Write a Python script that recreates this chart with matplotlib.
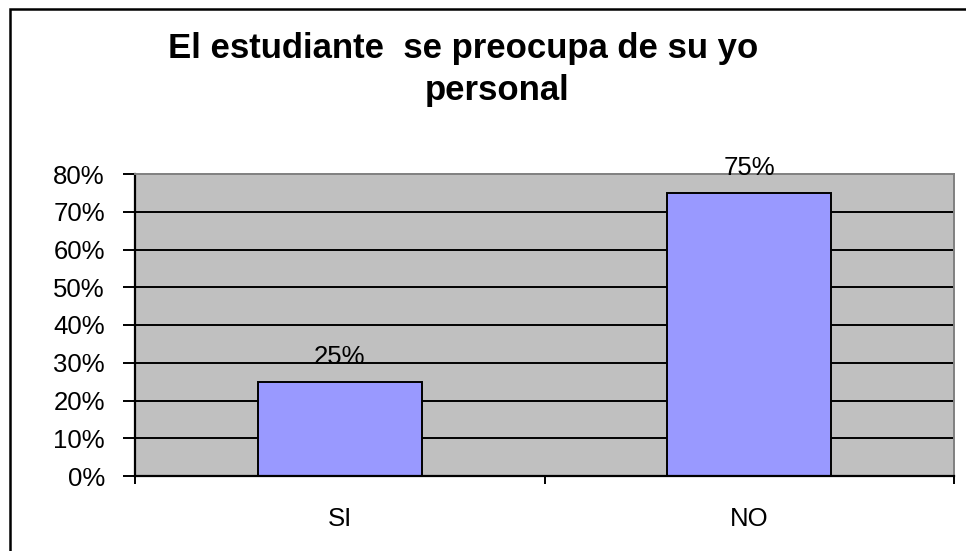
import matplotlib
matplotlib.use("Agg")
import matplotlib.pyplot as plt
from matplotlib.patches import Rectangle
from matplotlib.ticker import FuncFormatter

categories = ["SI", "NO"]
values = [0.25, 0.75]
labels = ["25%", "75%"]
yticks = [0, 0.1, 0.2, 0.3, 0.4, 0.5, 0.6, 0.7, 0.8]

plt.rcParams['font.family'] = ['Liberation Sans', 'DejaVu Sans']

W, H = 966, 551
fig = plt.figure(figsize=(W/100, H/100), dpi=100)

# outer frame (cut off at right/bottom)
fig.patches.append(Rectangle((10/W, -0.1), 1.2, (H-9)/H + 0.1, transform=fig.transFigure,
                             fill=False, edgecolor='black', linewidth=1.8))

ax = fig.add_axes([135/W, 1-476/H, (954-135)/W, (476-174)/H])
ax.set_facecolor('#C0C0C0')
ax.set_xlim(0, 2)
ax.set_ylim(0, 0.8)
for y in yticks[1:-1]:
    ax.axhline(y, color='black', linewidth=1.4, zorder=1)

x = [0.5, 1.5]
ax.bar(x, values, width=0.4, color='#9999FF', edgecolor='black', linewidth=1.4, zorder=2)
for xi, v, lab in zip(x, values, labels):
    ax.text(xi, v + 0.047, lab, ha='center', va='baseline', fontsize=18.5, zorder=3)

ax.set_yticks(yticks)
ax.yaxis.set_major_formatter(FuncFormatter(lambda v, p: f"{v*100:.0f}%"))
ax.set_xticks([0, 1, 2])
ax.set_xticklabels([])
ax.set_xticks(x, minor=True)
ax.set_xticklabels(categories, minor=True)
ax.tick_params(axis='x', which='minor', length=0, pad=22, labelsize=18.5)
ax.tick_params(axis='x', which='major', length=5.8, width=1.4, direction='out')
ax.tick_params(axis='y', length=8.6, width=1.4, direction='out', pad=13, labelsize=18.5)

for s in ['left', 'bottom']:
    ax.spines[s].set_color('black')
    ax.spines[s].set_linewidth(1.6)
for s in ['top', 'right']:
    ax.spines[s].set_color('#808080')
    ax.spines[s].set_linewidth(1.4)

fig.text(463/W, 1-58/H, "El estudiante  se preocupa de su yo", ha='center', va='baseline',
         fontsize=25, fontweight='bold')
fig.text(497/W, 1-100/H, "personal", ha='center', va='baseline',
         fontsize=25, fontweight='bold')

fig.savefig("out.png", dpi=100)
